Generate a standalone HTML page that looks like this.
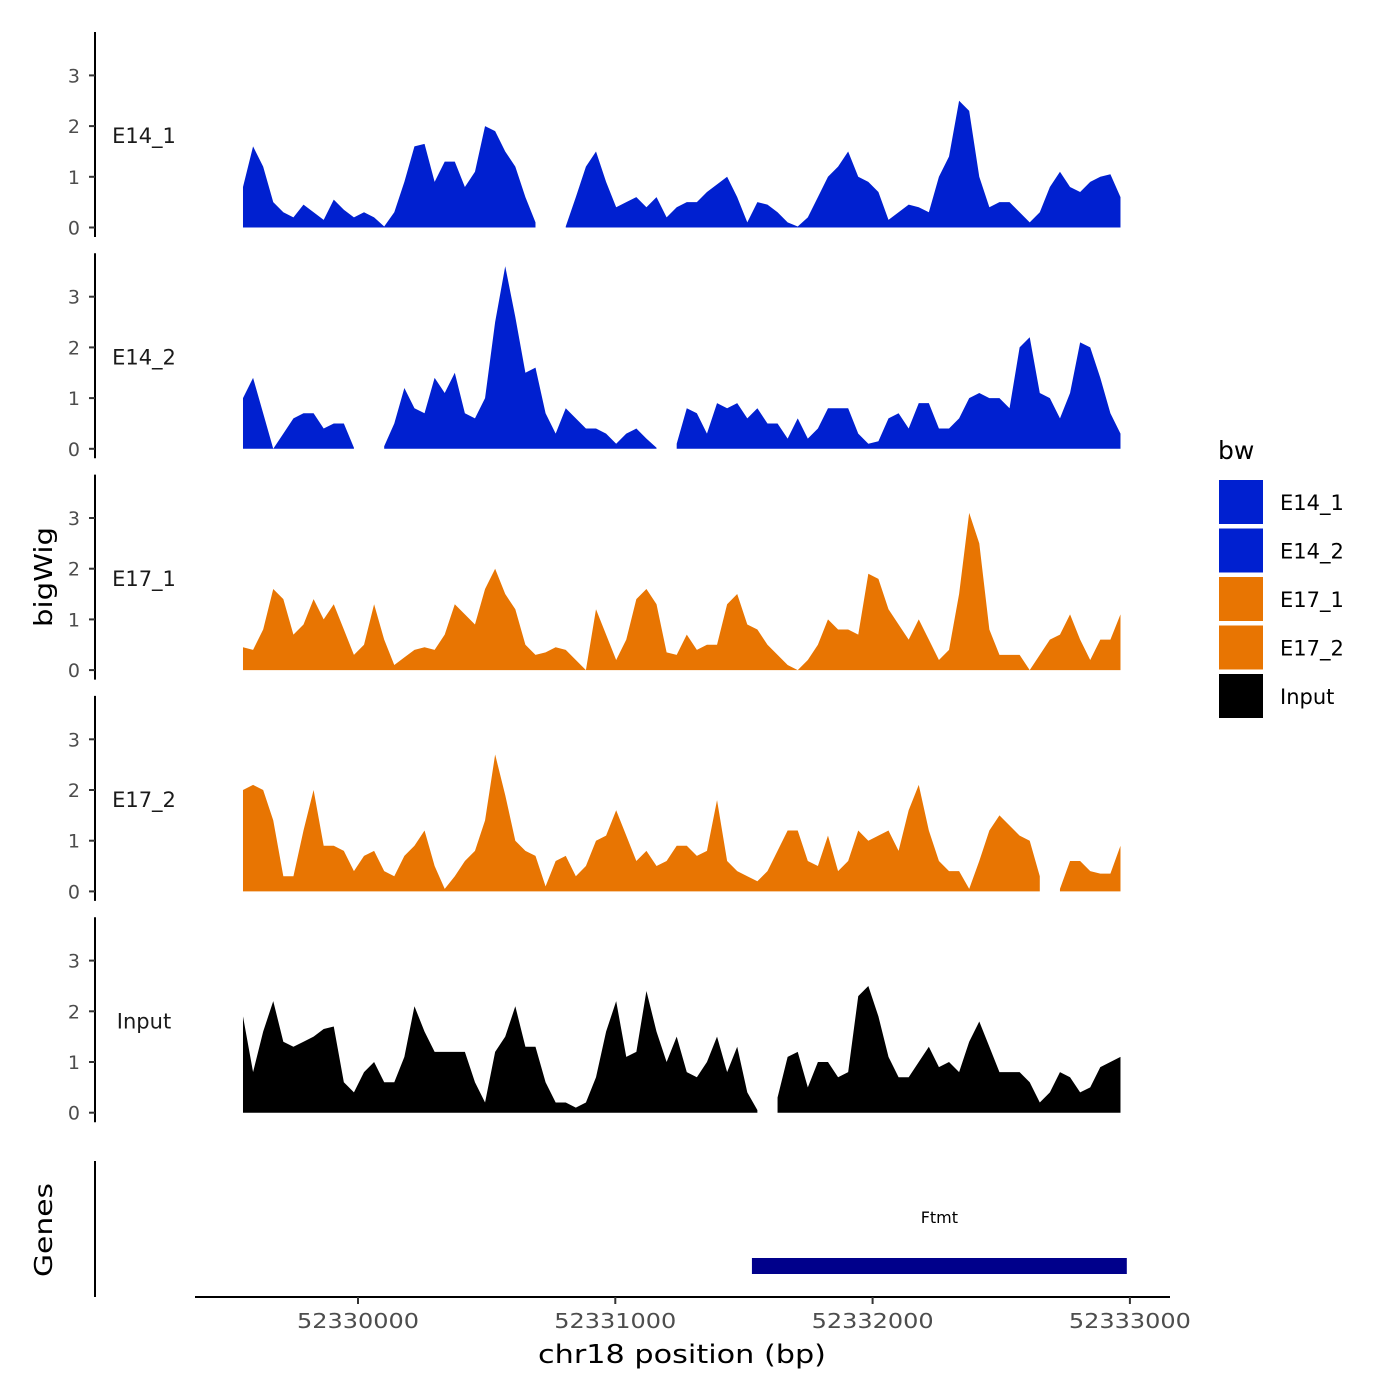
<!DOCTYPE html>
<html><head><meta charset="utf-8"><style>
body{margin:0;background:#fff;}
svg{display:block;font-family:"DejaVu Sans","Liberation Sans",sans-serif;}
</style></head><body>
<svg id="chart" width="1400" height="1400" viewBox="0 0 1400 1400" xmlns="http://www.w3.org/2000/svg">
<rect width="1400" height="1400" fill="#fff"/>
<text x="52" y="577" font-size="25" text-anchor="middle" textLength="100" lengthAdjust="spacingAndGlyphs" transform="rotate(-90 52 577)">bigWig</text>
<text x="52" y="1230" font-size="25" text-anchor="middle" textLength="94" lengthAdjust="spacingAndGlyphs" transform="rotate(-90 52 1230)">Genes</text>
<text x="682" y="1363" font-size="26" text-anchor="middle" textLength="288" lengthAdjust="spacingAndGlyphs">chr18 position (bp)</text>
<line x1="95" y1="1161" x2="95" y2="1297" stroke="#000" stroke-width="2"/>
<line x1="195" y1="1297" x2="1170" y2="1297" stroke="#000" stroke-width="2"/>
<g id="legend">
<text x="1218" y="459" font-size="25">bw</text>
</g>
</svg>
<script>
const startBp = 52329553;
const stepBp = 39.2;
const xTicks = [52330000, 52331000, 52332000, 52333000];
const yTicks = [0, 1, 2, 3];
const trackNames = ["E14_1", "E14_2", "E17_1", "E17_2", "Input"];
const trackColors = ["#0020D0", "#0020D0", "#E87502", "#E87502", "#000000"];
const e14_1 = [0.8,1.6,1.2,0.5,0.3,0.2,0.45,0.3,0.15,0.55,0.35,0.2,0.3,0.2,0.02,0.3,0.9,1.6,1.65,0.9,1.3,1.3,0.8,1.1,2.0,1.9,1.5,1.2,0.6,0.1,null,null,0.02,0.6,1.2,1.5,0.9,0.4,0.5,0.6,0.4,0.6,0.2,0.4,0.5,0.5,0.7,0.85,1.0,0.6,0.1,0.5,0.45,0.3,0.1,0.02,0.2,0.6,1.0,1.2,1.5,1.0,0.9,0.7,0.15,0.3,0.45,0.4,0.3,1.0,1.4,2.5,2.3,1.0,0.4,0.5,0.5,0.3,0.1,0.3,0.8,1.1,0.8,0.7,0.9,1.0,1.05,0.6];
const e14_2 = [1.0,1.4,0.7,0.0,0.3,0.6,0.7,0.7,0.4,0.5,0.5,0.02,null,null,0.05,0.5,1.2,0.8,0.7,1.4,1.1,1.5,0.7,0.6,1.0,2.5,3.6,2.6,1.5,1.6,0.7,0.3,0.8,0.6,0.4,0.4,0.3,0.1,0.3,0.4,0.2,0.02,null,0.1,0.8,0.7,0.3,0.9,0.8,0.9,0.6,0.8,0.5,0.5,0.2,0.6,0.2,0.4,0.8,0.8,0.8,0.3,0.1,0.15,0.6,0.7,0.4,0.9,0.9,0.4,0.4,0.6,1.0,1.1,1.0,1.0,0.8,2.0,2.2,1.1,1.0,0.6,1.1,2.1,2.0,1.4,0.7,0.3];
const e17_1 = [0.45,0.4,0.8,1.6,1.4,0.7,0.9,1.4,1.0,1.3,0.8,0.3,0.5,1.3,0.6,0.1,0.25,0.4,0.45,0.4,0.7,1.3,1.1,0.9,1.6,2.0,1.5,1.2,0.5,0.3,0.35,0.45,0.4,0.2,0.0,1.2,0.7,0.2,0.6,1.4,1.6,1.3,0.35,0.3,0.7,0.4,0.5,0.5,1.3,1.5,0.9,0.8,0.5,0.3,0.1,0.0,0.2,0.5,1.0,0.8,0.8,0.7,1.9,1.8,1.2,0.9,0.6,1.0,0.6,0.2,0.4,1.5,3.1,2.5,0.8,0.3,0.3,0.3,0.0,0.3,0.6,0.7,1.1,0.6,0.2,0.6,0.6,1.1];
const e17_2 = [2.0,2.1,2.0,1.4,0.3,0.3,1.2,2.0,0.9,0.9,0.8,0.4,0.7,0.8,0.4,0.3,0.7,0.9,1.2,0.5,0.05,0.3,0.6,0.8,1.4,2.7,1.9,1.0,0.8,0.7,0.1,0.6,0.7,0.3,0.5,1.0,1.1,1.6,1.1,0.6,0.8,0.5,0.6,0.9,0.9,0.7,0.8,1.8,0.6,0.4,0.3,0.2,0.4,0.8,1.2,1.2,0.6,0.5,1.1,0.4,0.6,1.2,1.0,1.1,1.2,0.8,1.6,2.1,1.2,0.6,0.4,0.4,0.05,0.6,1.2,1.5,1.3,1.1,1.0,0.3,null,0.05,0.6,0.6,0.4,0.35,0.35,0.9];
const input = [1.9,0.8,1.6,2.2,1.4,1.3,1.4,1.5,1.65,1.7,0.6,0.4,0.8,1.0,0.6,0.6,1.1,2.1,1.6,1.2,1.2,1.2,1.2,0.6,0.2,1.2,1.5,2.1,1.3,1.3,0.6,0.2,0.2,0.1,0.2,0.7,1.6,2.2,1.1,1.2,2.4,1.6,1.0,1.5,0.8,0.7,1.0,1.5,0.8,1.3,0.4,0.05,null,0.3,1.1,1.2,0.5,1.0,1.0,0.7,0.8,2.3,2.5,1.9,1.1,0.7,0.7,1.0,1.3,0.9,1.0,0.8,1.4,1.8,1.3,0.8,0.8,0.8,0.6,0.2,0.4,0.8,0.7,0.4,0.5,0.9,1.0,1.1];
const trackValues = [e14_1, e14_2, e17_1, e17_2, input];
const geneNames = ["Ftmt"];
const geneStarts = [52331531];
const geneEnds = [52332988];

const NS = "http://www.w3.org/2000/svg";
const svg = document.getElementById("chart");
function xScale(bp){ return 358 + (bp - 52330000) * 0.2573; }
const panelTop0 = 32, panelPitch = 221.3, zeroOff = 195.5, unitPx = 50.7;
function yScale(v, p){ return panelTop0 + p*panelPitch + zeroOff - v*unitPx; }
function mk(tag, attrs){ const e=document.createElementNS(NS,tag); for(const k in attrs) e.setAttribute(k, attrs[k]); svg.appendChild(e); return e; }

trackValues.forEach((vals, p) => {
  const top = panelTop0 + p*panelPitch;
  const ax = mk("line",{x1:95,y1:top,x2:95,y2:top+205,stroke:"#000","stroke-width":2});
  
  
  yTicks.forEach(t => {
    const y = yScale(t, p);
    const tk = mk("line",{x1:89,y1:y,x2:95,y2:y,stroke:"#333","stroke-width":2});
    
    
    const tl = mk("text",{x:80,y:y+7,"font-size":19,"text-anchor":"end",fill:"#4d4d4d"});
    tl.textContent = t;
    
    
  });
  const lab = mk("text",{x:144,y:yScale(1.8,p)+7,"font-size":21,"text-anchor":"middle",fill:"#1a1a1a"});
  lab.textContent = trackNames[p];
  
  
  let seg = [];
  const flush = () => {
    if (seg.length) {
      const x0 = xScale(startBp + seg[0]*stepBp), x1 = xScale(startBp + seg[seg.length-1]*stepBp);
      let d = "M" + x0 + "," + yScale(0,p);
      seg.forEach(i => { d += " L" + xScale(startBp + i*stepBp) + "," + yScale(vals[i], p); });
      d += " L" + x1 + "," + yScale(0,p) + " Z";
      const a = mk("path",{d:d,fill:trackColors[p]});
      
      
    }
    seg = [];
  };
  vals.forEach((v,i) => { if (v === null) flush(); else seg.push(i); });
  flush();
});

xTicks.forEach(t => {
  const x = xScale(t);
  const tk = mk("line",{x1:x,y1:1297,x2:x,y2:1304,stroke:"#333","stroke-width":2});
  
  
  const tl = mk("text",{x:x,y:1328,"font-size":20,"text-anchor":"middle",fill:"#4d4d4d",textLength:122,lengthAdjust:"spacingAndGlyphs"});
  tl.textContent = t;
  
  
});

geneNames.forEach((g, i) => {
  const x0 = xScale(geneStarts[i]), x1 = xScale(geneEnds[i]);
  const r = mk("rect",{x:x0,y:1258,width:x1-x0,height:16,fill:"#00008B"});
  
  
  const t = mk("text",{x:(x0+x1)/2,y:1223,"font-size":16,"text-anchor":"middle",fill:"#000"});
  t.textContent = g;
  
  
});

trackNames.forEach((n, i) => {
  const y = 480 + i*48.5;
  const r = mk("rect",{x:1219,y:y,width:44,height:44,fill:trackColors[i]});
  
  
  const t = mk("text",{x:1280,y:y+30,"font-size":21,fill:"#000"});
  t.textContent = n;
  
  
});
</script>
</body></html>
